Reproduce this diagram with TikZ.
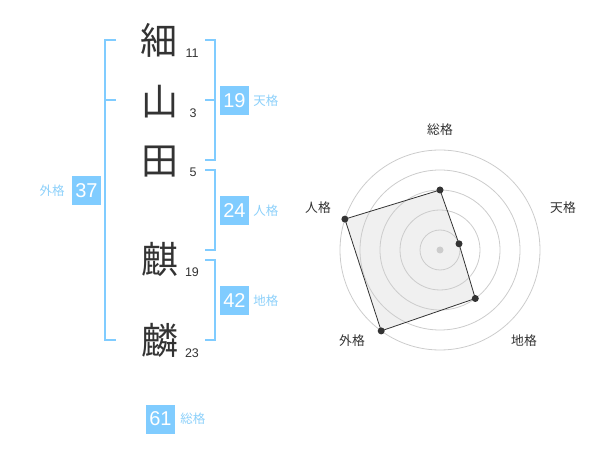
\documentclass[tikz,border=0pt]{standalone}
\usepackage{fontspec}
\setmainfont{Liberation Sans}
\newfontfamily\jp{Noto Sans CJK JP}
\usetikzlibrary{positioning,calc}
\definecolor{kblue}{RGB}{128,204,255}
\definecolor{klabel}{RGB}{140,208,250}
\definecolor{kdark}{RGB}{51,51,51}
\definecolor{kring}{RGB}{204,204,204}
\definecolor{kfill}{RGB}{240,240,240}

\begin{document}
\begin{tikzpicture}[x=1pt,y=-1pt,
    kanji/.style={text=kdark,font=\jp\fontsize{37}{37}\selectfont,inner sep=0pt},
    strokes/.style={text=kdark,font=\fontsize{12.5}{12.5}\selectfont,inner sep=0pt},
    score/.style={fill=kblue,text=white,minimum size=29pt,inner sep=0pt,font=\fontsize{20}{20}\selectfont},
    kaku/.style={text=klabel,font=\jp\fontsize{12.5}{12.5}\selectfont,inner sep=0pt},
    bracket/.style={draw=kblue,line width=2pt},
    axislabel/.style={text=kdark,font=\jp\fontsize{12.8}{12.8}\selectfont,inner sep=0pt},
    ring/.style={draw=kring,line width=0.8pt},
    vertex/.style={circle,fill=kdark,inner sep=0pt,minimum size=7pt}]
    \useasboundingbox (0,0) rectangle (600,470);

    % name
    \node[kanji] (k1) at (159,40) {細};
    \node[kanji] (k2) at (160,102) {山};
    \node[kanji] (k3) at (160,162) {田};
    \node[kanji] (k4) at (160,259) {麒};
    \node[kanji] (k5) at (160,340) {麟};

    \node[strokes] (s1) at (192,53) {11};
    \node[strokes] (s2) at (193,113) {3};
    \node[strokes] (s3) at (193,172) {5};
    \node[strokes] (s4) at (192,272) {19};
    \node[strokes] (s5) at (192,353) {23};

    % brackets
    \draw[bracket] (116,40) -- (105,40) -- (105,340) -- (116,340);
    \draw[bracket] (105,100) -- (116,100);
    \draw[bracket] (205,40) -- (215,40) -- (215,160) -- (205,160);
    \draw[bracket] (205,100) -- (215,100);
    \draw[bracket] (205,170) -- (215,170) -- (215,250) -- (205,250);
    \draw[bracket] (205,260) -- (215,260) -- (215,340) -- (205,340);

    % scores
    \node[score] (ten) at (234.5,100.5) {19};
    \node[kaku,right=4pt of ten] (tenl) {天格};
    \node[score] (jin) at (234.5,211) {24};
    \node[kaku,right=4pt of jin] (jinl) {人格};
    \node[score] (chi) at (234.5,300.5) {42};
    \node[kaku,right=4pt of chi] (chil) {地格};
    \node[score] (gai) at (86.5,190.5) {37};
    \node[kaku,left=7pt of gai] (gail) {外格};
    \node[score] (sou) at (160.5,419) {61};
    \node[kaku,right=5pt of sou] (soul) {総格};

    % radar
    \coordinate (c) at (440,250);
    \coordinate (p1) at ($(c)+(0,-60)$);
    \coordinate (p2) at ($(c)+(19.0,-6.2)$);
    \coordinate (p3) at ($(c)+(35.3,48.5)$);
    \coordinate (p4) at ($(c)+(-58.8,80.9)$);
    \coordinate (p5) at ($(c)+(-95.1,-30.9)$);
    \fill[kfill] (p1) -- (p2) -- (p3) -- (p4) -- (p5) -- cycle;
    \foreach \r in {20,40,60,80,100}
        \draw[ring] (c) circle (\r);
    \draw[kdark,line width=0.8pt] (p1) -- (p2) -- (p3) -- (p4) -- (p5) -- cycle;
    \foreach \p in {p1,p2,p3,p4,p5}
        \node[vertex] at (\p) {};
    \node[circle,fill=kring,inner sep=0pt,minimum size=7pt] (mid) at (c) {};

    \node[axislabel] (a1) at (440,130) {総格};
    \node[axislabel] (a2) at (563,208) {天格};
    \node[axislabel] (a3) at (524,341) {地格};
    \node[axislabel] (a4) at (352,341) {外格};
    \node[axislabel] (a5) at (318,208) {人格};
\end{tikzpicture}
\end{document}
